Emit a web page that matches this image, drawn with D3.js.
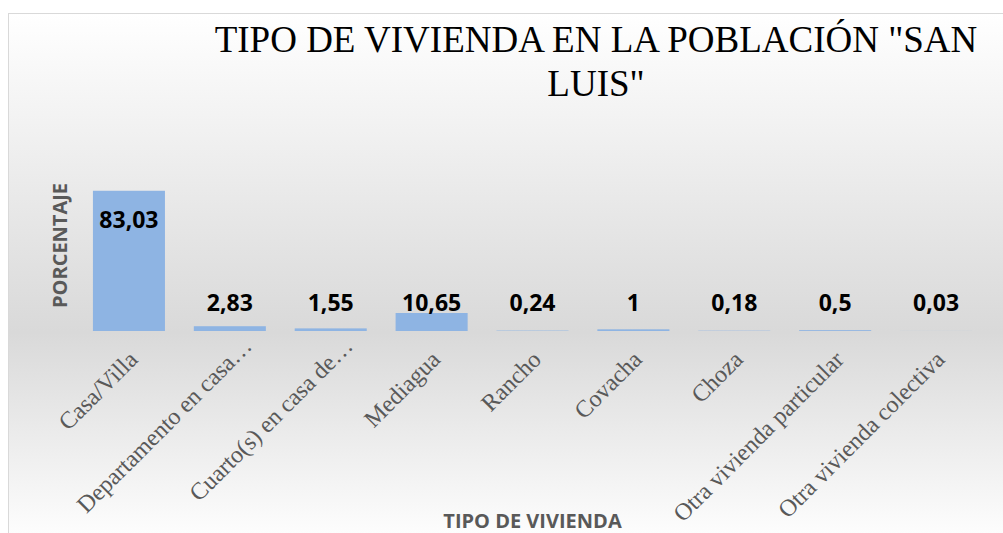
<!DOCTYPE html>
<html lang="es">
<head>
<meta charset="utf-8">
<script src="https://cdn.jsdelivr.net/npm/d3@7"></script>
<style>
  html, body { margin: 0; padding: 0; background: #ffffff; }
  svg { display: block; }
</style>
</head>
<body>
<svg id="chart" width="1003" height="533"></svg>
<script>
// Tipos de vivienda y su porcentaje en la población
const categories = [
  "Casa/Villa",
  "Departamento en casa…",
  "Cuarto(s) en casa de…",
  "Mediagua",
  "Rancho",
  "Covacha",
  "Choza",
  "Otra vivienda particular",
  "Otra vivienda colectiva"
];
const values = [83.03, 2.83, 1.55, 10.65, 0.24, 1, 0.18, 0.5, 0.03];
const valueLabels = ["83,03", "2,83", "1,55", "10,65", "0,24", "1", "0,18", "0,5", "0,03"];
const titleLines = ["TIPO DE VIVIENDA EN LA POBLACIÓN \"SAN", "LUIS\""];
const yTitle = "PORCENTAJE";
const xTitle = "TIPO DE VIVIENDA";

const svg = d3.select("#chart");

// Fondo del área del gráfico: degradado vertical blanco → gris → blanco
const defs = svg.append("defs");
const grad = defs.append("linearGradient")
  .attr("id", "bg")
  .attr("gradientUnits", "userSpaceOnUse")
  .attr("x1", 0).attr("y1", 13).attr("x2", 0).attr("y2", 545);
grad.append("stop").attr("offset", "0").attr("stop-color", "#ffffff");
grad.append("stop").attr("offset", "0.6").attr("stop-color", "#d9d9d9");
grad.append("stop").attr("offset", "1").attr("stop-color", "#ffffff");

svg.append("rect")
  .attr("x", 8.5).attr("y", 13.5)
  .attr("width", 1100).attr("height", 600)
  .attr("fill", "url(#bg)")
  .attr("stroke", "#d9d9d9")
  .attr("stroke-width", 1);

// Escalas
const x = d3.scaleBand()
  .domain(categories)
  .range([78.5, 986.5])
  .paddingInner(0.286)
  .paddingOuter(0.143);

const y = d3.scaleLinear()
  .domain([0, 90])
  .range([331, 179]);

// Título
const title = svg.append("text")
  .attr("x", 596)
  .attr("text-anchor", "middle")
  .attr("font-family", "'Liberation Serif', 'Times New Roman', serif")
  .attr("font-size", 37)
  .attr("fill", "#000000");
title.selectAll("tspan")
  .data(titleLines)
  .join("tspan")
  .attr("x", 596)
  .attr("y", (d, i) => 52 + i * 44)
  .text(d => d);

// Barras
svg.append("g")
  .selectAll("rect")
  .data(values)
  .join("rect")
  .attr("x", (d, i) => x(categories[i]))
  .attr("y", d => y(d))
  .attr("width", x.bandwidth())
  .attr("height", d => y(0) - y(d))
  .attr("fill", "#8eb4e3");

// Etiquetas de datos: dentro del extremo si caben, si no sobre la base
svg.append("g")
  .selectAll("text")
  .data(values)
  .join("text")
  .attr("x", (d, i) => x(categories[i]) + x.bandwidth() / 2)
  .attr("y", d => Math.min(y(d) + 37, y(0) - 20))
  .attr("text-anchor", "middle")
  .attr("font-family", "'Open Sans', 'Liberation Sans', sans-serif")
  .attr("font-weight", "bold")
  .attr("font-size", 23)
  .attr("fill", "#000000")
  .text((d, i) => valueLabels[i]);

// Eje X (sin línea ni marcas, etiquetas rotadas)
const xAxis = svg.append("g")
  .attr("transform", `translate(0, ${y(0)})`)
  .call(d3.axisBottom(x).tickSize(0).tickPadding(0));
xAxis.select(".domain").remove();
xAxis.selectAll(".tick text")
  .attr("transform", "translate(10, 30) rotate(-45)")
  .attr("dy", 0)
  .attr("y", 0)
  .attr("x", d => d.endsWith("…") ? 19 : 0)
  .attr("text-anchor", "end")
  .attr("font-family", "'Liberation Serif', 'Times New Roman', serif")
  .attr("font-size", 24)
  .attr("fill", "#595959");

// Títulos de los ejes
svg.append("text")
  .attr("transform", "translate(67, 245.5) rotate(-90)")
  .attr("text-anchor", "middle")
  .attr("font-family", "'Open Sans', 'Liberation Sans', sans-serif")
  .attr("font-weight", "bold")
  .attr("font-size", 20)
  .attr("fill", "#595959")
  .text(yTitle);

svg.append("text")
  .attr("x", 532.5)
  .attr("y", 528)
  .attr("text-anchor", "middle")
  .attr("font-family", "'Open Sans', 'Liberation Sans', sans-serif")
  .attr("font-weight", "bold")
  .attr("font-size", 20)
  .attr("fill", "#595959")
  .text(xTitle);
</script>
</body>
</html>
